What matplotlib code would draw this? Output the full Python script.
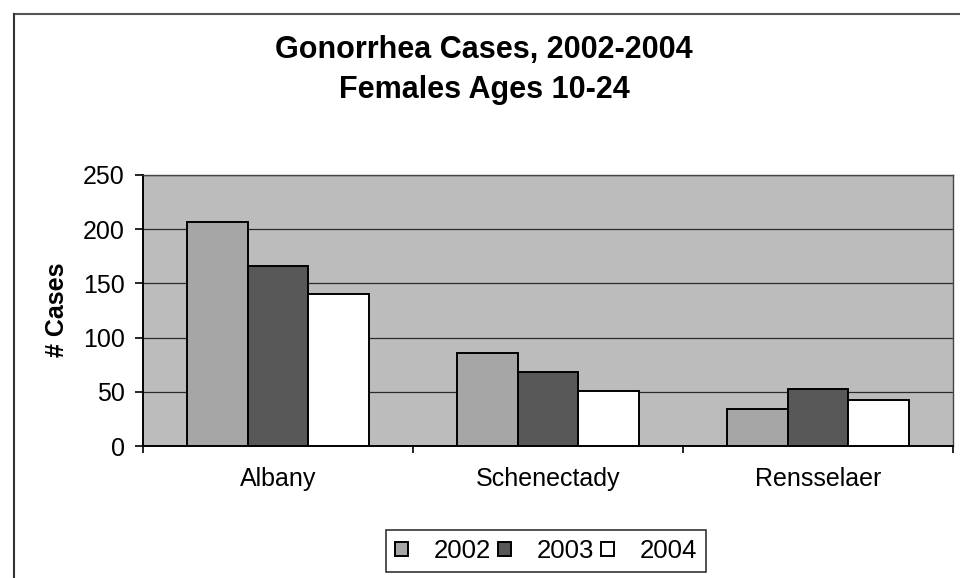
import matplotlib
matplotlib.use("Agg")
import matplotlib.pyplot as plt
import numpy as np
from matplotlib.lines import Line2D

categories = ["Albany", "Schenectady", "Rensselaer"]
years = ["2002", "2003", "2004"]
cases_2002 = [207, 86, 34]
cases_2003 = [166, 68, 53]
cases_2004 = [140, 51, 42]
series = [cases_2002, cases_2003, cases_2004]
colors = ["#a6a6a6", "#585858", "#ffffff"]

FONT = "Liberation Sans"

fig = plt.figure(figsize=(9.6, 5.78), dpi=100)
fig.patch.set_facecolor("white")
ax = fig.add_axes([143/960, 1-446/578, (953-143)/960, (446-175)/578])
ax.set_facecolor("#bcbcbc")

x = np.arange(len(categories))
w = 0.225
for i, (vals, c) in enumerate(zip(series, colors)):
    ax.bar(x + (i-1)*w, vals, width=w, color=c, edgecolor="black", linewidth=1.4,
           label=years[i], zorder=3)

ax.set_xlim(-0.5, 2.5)
ax.set_ylim(0, 250)
ax.set_yticks(range(0, 251, 50))
ax.set_xticks(x)
ax.set_xticklabels(categories, fontsize=18, family=FONT)
ax.set_xticks([-0.5, 0.5, 1.5, 2.5], minor=True)
ax.tick_params(axis="x", which="major", length=0, pad=15)
ax.tick_params(axis="x", which="minor", length=5, direction="out", width=1.2)
ax.tick_params(axis="y", length=6, width=1.2, labelsize=18, pad=7)
for lab in ax.get_yticklabels():
    lab.set_family(FONT)
ax.yaxis.grid(True, color="#2a2a2a", linewidth=0.9, zorder=1)
ax.set_axisbelow(True)
for s in ["top", "right"]:
    ax.spines[s].set_color("#444444")
    ax.spines[s].set_linewidth(1.0)
for s in ["left", "bottom"]:
    ax.spines[s].set_color("black")
    ax.spines[s].set_linewidth(1.4)

ax.set_ylabel("# Cases", fontsize=18, fontweight="bold", family=FONT, va="center")
ax.yaxis.set_label_coords(57/960, 1-310/578, transform=fig.transFigure)

fig.text(484/960, 1-50/578, "Gonorrhea Cases, 2002-2004", ha="center", va="center",
         fontsize=22, fontweight="bold", family=FONT)
fig.text(484/960, 1-90/578, "Females Ages 10-24", ha="center", va="center",
         fontsize=22, fontweight="bold", family=FONT)

leg = fig.legend(loc="center", bbox_to_anchor=(546/960, 1-551/578), ncol=3, frameon=True,
                 fancybox=False, edgecolor="black", handlelength=0.48, handleheight=0.48,
                 columnspacing=0.3, handletextpad=1.0, borderpad=0.35, borderaxespad=0,
                 prop={"family": FONT, "size": 18.5})
leg.get_frame().set_linewidth(1.2)

# outer chart border (top and left edges visible)
fig.add_artist(Line2D([14/960, 1.0], [1-14/578, 1-14/578], transform=fig.transFigure,
                      color="#555555", linewidth=1.5))
fig.add_artist(Line2D([14/960, 14/960], [1-14/578, 0.0], transform=fig.transFigure,
                      color="#333333", linewidth=1.5))

fig.savefig("out.png", dpi=100)
